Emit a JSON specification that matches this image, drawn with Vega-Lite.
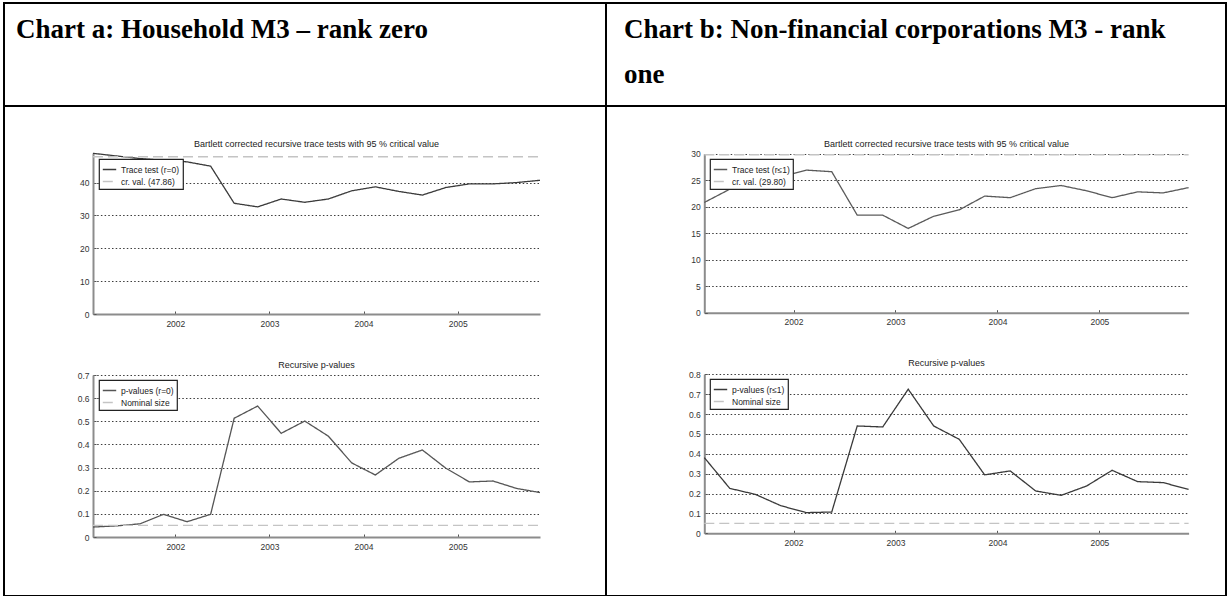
{
  "$schema": "https://vega.github.io/schema/vega-lite/v6.json",
  "background": "white",
  "padding": {"left": 3, "top": 2, "right": 2, "bottom": 1},
  "datasets": {
    "a": [
      {"t": 2001.125, "trace": 48.9, "pval": 0.043},
      {"t": 2001.375, "trace": 48.1, "pval": 0.048},
      {"t": 2001.625, "trace": 47.3, "pval": 0.057},
      {"t": 2001.875, "trace": 46.8, "pval": 0.098},
      {"t": 2002.125, "trace": 46.3, "pval": 0.066},
      {"t": 2002.375, "trace": 45.0, "pval": 0.098},
      {"t": 2002.625, "trace": 33.7, "pval": 0.513},
      {"t": 2002.875, "trace": 32.6, "pval": 0.566},
      {"t": 2003.125, "trace": 35.0, "pval": 0.448},
      {"t": 2003.375, "trace": 34.0, "pval": 0.501},
      {"t": 2003.625, "trace": 35.0, "pval": 0.436},
      {"t": 2003.875, "trace": 37.5, "pval": 0.320},
      {"t": 2004.125, "trace": 38.7, "pval": 0.268},
      {"t": 2004.375, "trace": 37.3, "pval": 0.340},
      {"t": 2004.625, "trace": 36.2, "pval": 0.376},
      {"t": 2004.875, "trace": 38.5, "pval": 0.297},
      {"t": 2005.125, "trace": 39.6, "pval": 0.238},
      {"t": 2005.375, "trace": 39.6, "pval": 0.242},
      {"t": 2005.625, "trace": 40.0, "pval": 0.210},
      {"t": 2005.875, "trace": 40.7, "pval": 0.192}
    ],
    "b": [
      {"t": 2001.125, "trace": 20.8, "pval": 0.381},
      {"t": 2001.375, "trace": 23.3, "pval": 0.226},
      {"t": 2001.625, "trace": 24.0, "pval": 0.196},
      {"t": 2001.875, "trace": 25.6, "pval": 0.139},
      {"t": 2002.125, "trace": 26.9, "pval": 0.104},
      {"t": 2002.375, "trace": 26.6, "pval": 0.107},
      {"t": 2002.625, "trace": 18.4, "pval": 0.540},
      {"t": 2002.875, "trace": 18.4, "pval": 0.535},
      {"t": 2003.125, "trace": 15.9, "pval": 0.725},
      {"t": 2003.375, "trace": 18.2, "pval": 0.540},
      {"t": 2003.625, "trace": 19.4, "pval": 0.473},
      {"t": 2003.875, "trace": 22.0, "pval": 0.294},
      {"t": 2004.125, "trace": 21.7, "pval": 0.314},
      {"t": 2004.375, "trace": 23.4, "pval": 0.213},
      {"t": 2004.625, "trace": 24.0, "pval": 0.191},
      {"t": 2004.875, "trace": 23.0, "pval": 0.238},
      {"t": 2005.125, "trace": 21.7, "pval": 0.317},
      {"t": 2005.375, "trace": 22.8, "pval": 0.260},
      {"t": 2005.625, "trace": 22.6, "pval": 0.255},
      {"t": 2005.875, "trace": 23.6, "pval": 0.221}
    ]
  },
  "columns": 2,
  "spacing": 0,
  "bounds": "flush",
  "concat": [
    {
      "width": 602,
      "height": 103,
      "data": {"values": [{"label": "Chart a: Household M3 – rank zero"}]},
      "mark": {"type": "text", "align": "left", "baseline": "alphabetic", "font": "Liberation Serif", "fontWeight": "bold", "fontSize": 27, "dx": 12, "dy": 35, "color": "#000"},
      "encoding": {
        "x": {"datum": 0, "type": "quantitative", "scale": {"domain": [0, 1]}, "axis": null},
        "y": {"datum": 1, "type": "quantitative", "scale": {"domain": [0, 1]}, "axis": null},
        "text": {"field": "label", "type": "nominal"}
      }
    },
    {
      "width": 620,
      "height": 103,
      "data": {"values": [{"label": "Chart b: Non-financial corporations M3 - rank\none"}]},
      "mark": {"type": "text", "align": "left", "baseline": "alphabetic", "font": "Liberation Serif", "fontWeight": "bold", "fontSize": 27, "lineBreak": "\n", "lineHeight": 45, "dx": 18, "dy": 35, "color": "#000"},
      "encoding": {
        "x": {"datum": 0, "type": "quantitative", "scale": {"domain": [0, 1]}, "axis": null},
        "y": {"datum": 1, "type": "quantitative", "scale": {"domain": [0, 1]}, "axis": null},
        "text": {"field": "label", "type": "nominal"}
      }
    },
    {
      "width": 602,
      "height": 490,
      "data": {"name": "a"},
      "layer": [
        {
          "layer": [
            {
              "mark": {"type": "line", "strokeWidth": 1.3},
              "encoding": {
                "x": {"field": "t", "type": "quantitative", "scale": {"domain": [2001.125, 2005.875], "range": [89, 536], "nice": false, "zero": false}, "axis": {"orient": "bottom", "offset": -282, "values": [2002, 2003, 2004, 2005], "format": "d", "title": null, "grid": false}},
                "y": {"field": "trace", "type": "quantitative", "scale": {"domain": [0, 49], "range": [208, 47], "nice": false, "zero": false}, "axis": {"orient": "left", "offset": -89, "values": [0, 10, 20, 30, 40], "format": "d", "title": null, "grid": true}},
                "color": {"datum": "Trace test (r=0)", "type": "nominal", "scale": {"domain": ["Trace test (r=0)", "cr. val. (47.86)"], "range": ["#3a3a3a", "#c4c4c4"]}, "legend": {"orient": "none", "legendX": 95, "legendY": 53, "title": null}},
                "strokeDash": {"datum": "Trace test (r=0)", "type": "nominal", "scale": {"domain": ["Trace test (r=0)", "cr. val. (47.86)"], "range": [[1, 0], [10, 5]]}, "legend": {"orient": "none", "legendX": 95, "legendY": 53, "title": null}}
              }
            },
            {
              "mark": {"type": "line", "strokeWidth": 1.3},
              "encoding": {
                "x": {"field": "t", "type": "quantitative", "scale": {"domain": [2001.125, 2005.875], "range": [89, 536], "nice": false, "zero": false}},
                "y": {"datum": 47.86, "type": "quantitative", "scale": {"domain": [0, 49], "range": [208, 47], "nice": false, "zero": false}},
                "color": {"datum": "cr. val. (47.86)", "type": "nominal", "scale": {"domain": ["Trace test (r=0)", "cr. val. (47.86)"], "range": ["#3a3a3a", "#c4c4c4"]}, "legend": {"orient": "none", "legendX": 95, "legendY": 53, "title": null}},
                "strokeDash": {"datum": "cr. val. (47.86)", "type": "nominal", "scale": {"domain": ["Trace test (r=0)", "cr. val. (47.86)"], "range": [[1, 0], [10, 5]]}, "legend": {"orient": "none", "legendX": 95, "legendY": 53, "title": null}}
              }
            },
            {
              "data": {"values": [{"title": "Bartlett corrected recursive trace tests with 95 % critical value"}]},
              "mark": {"type": "text", "font": "Liberation Sans", "fontSize": 9, "color": "#222", "align": "center", "baseline": "alphabetic", "dy": -6.5},
              "encoding": {
                "x": {"datum": 2003.5, "type": "quantitative", "scale": {"domain": [2001.125, 2005.875], "range": [89, 536], "nice": false, "zero": false}},
                "y": {"datum": 49, "type": "quantitative", "scale": {"domain": [0, 49], "range": [208, 47], "nice": false, "zero": false}},
                "text": {"field": "title", "type": "nominal"}
              }
            }
          ]
        },
        {
          "layer": [
            {
              "mark": {"type": "line", "strokeWidth": 1.3},
              "encoding": {
                "x": {"field": "t", "type": "quantitative", "scale": {"domain": [2001.125, 2005.875], "range": [89, 536], "nice": false, "zero": false}, "axis": {"orient": "bottom", "offset": -59, "values": [2002, 2003, 2004, 2005], "format": "d", "title": null, "grid": false}},
                "y": {"field": "pval", "type": "quantitative", "scale": {"domain": [0, 0.7], "range": [431, 269], "nice": false, "zero": false}, "axis": {"orient": "left", "offset": -89, "values": [0, 0.1, 0.2, 0.3, 0.4, 0.5, 0.6, 0.7], "format": ".1~f", "title": null, "grid": true}},
                "color": {"datum": "p-values (r=0)", "type": "nominal", "scale": {"domain": ["p-values (r=0)", "Nominal size"], "range": ["#555555", "#c4c4c4"]}, "legend": {"orient": "none", "legendX": 95, "legendY": 274, "title": null}},
                "strokeDash": {"datum": "p-values (r=0)", "type": "nominal", "scale": {"domain": ["p-values (r=0)", "Nominal size"], "range": [[1, 0], [10, 5]]}, "legend": {"orient": "none", "legendX": 95, "legendY": 274, "title": null}}
              }
            },
            {
              "mark": {"type": "line", "strokeWidth": 1.3},
              "encoding": {
                "x": {"field": "t", "type": "quantitative", "scale": {"domain": [2001.125, 2005.875], "range": [89, 536], "nice": false, "zero": false}},
                "y": {"datum": 0.05, "type": "quantitative", "scale": {"domain": [0, 0.7], "range": [431, 269], "nice": false, "zero": false}},
                "color": {"datum": "Nominal size", "type": "nominal", "scale": {"domain": ["p-values (r=0)", "Nominal size"], "range": ["#555555", "#c4c4c4"]}, "legend": {"orient": "none", "legendX": 95, "legendY": 274, "title": null}},
                "strokeDash": {"datum": "Nominal size", "type": "nominal", "scale": {"domain": ["p-values (r=0)", "Nominal size"], "range": [[1, 0], [10, 5]]}, "legend": {"orient": "none", "legendX": 95, "legendY": 274, "title": null}}
              }
            },
            {
              "data": {"values": [{"title": "Recursive p-values"}]},
              "mark": {"type": "text", "font": "Liberation Sans", "fontSize": 9, "color": "#222", "align": "center", "baseline": "alphabetic", "dy": -7.5},
              "encoding": {
                "x": {"datum": 2003.5, "type": "quantitative", "scale": {"domain": [2001.125, 2005.875], "range": [89, 536], "nice": false, "zero": false}},
                "y": {"datum": 0.7, "type": "quantitative", "scale": {"domain": [0, 0.7], "range": [431, 269], "nice": false, "zero": false}},
                "text": {"field": "title", "type": "nominal"}
              }
            }
          ]
        }
      ],
      "resolve": {
        "scale": {"x": "independent", "y": "independent", "color": "independent", "strokeDash": "independent"},
        "axis": {"x": "independent", "y": "independent"},
        "legend": {"color": "independent", "strokeDash": "independent"}
      }
    },
    {
      "width": 620,
      "height": 490,
      "data": {"name": "b"},
      "layer": [
        {
          "layer": [
            {
              "mark": {"type": "line", "strokeWidth": 1.3},
              "encoding": {
                "x": {"field": "t", "type": "quantitative", "scale": {"domain": [2001.125, 2005.875], "range": [98.3, 582.6], "nice": false, "zero": false}, "axis": {"orient": "bottom", "offset": -283.3, "values": [2002, 2003, 2004, 2005], "format": "d", "title": null, "grid": false}},
                "y": {"field": "trace", "type": "quantitative", "scale": {"domain": [0, 30], "range": [206.7, 47.7], "nice": false, "zero": false}, "axis": {"orient": "left", "offset": -98.3, "values": [0, 5, 10, 15, 20, 25, 30], "format": "d", "title": null, "grid": true}},
                "color": {"datum": "Trace test (r≤1)", "type": "nominal", "scale": {"domain": ["Trace test (r≤1)", "cr. val. (29.80)"], "range": ["#5a5a5a", "#c4c4c4"]}, "legend": {"orient": "none", "legendX": 104, "legendY": 53, "title": null}},
                "strokeDash": {"datum": "Trace test (r≤1)", "type": "nominal", "scale": {"domain": ["Trace test (r≤1)", "cr. val. (29.80)"], "range": [[1, 0], [10, 5]]}, "legend": {"orient": "none", "legendX": 104, "legendY": 53, "title": null}}
              }
            },
            {
              "mark": {"type": "line", "strokeWidth": 1.3},
              "encoding": {
                "x": {"field": "t", "type": "quantitative", "scale": {"domain": [2001.125, 2005.875], "range": [98.3, 582.6], "nice": false, "zero": false}},
                "y": {"datum": 29.8, "type": "quantitative", "scale": {"domain": [0, 30], "range": [206.7, 47.7], "nice": false, "zero": false}},
                "color": {"datum": "cr. val. (29.80)", "type": "nominal", "scale": {"domain": ["Trace test (r≤1)", "cr. val. (29.80)"], "range": ["#5a5a5a", "#c4c4c4"]}, "legend": {"orient": "none", "legendX": 104, "legendY": 53, "title": null}},
                "strokeDash": {"datum": "cr. val. (29.80)", "type": "nominal", "scale": {"domain": ["Trace test (r≤1)", "cr. val. (29.80)"], "range": [[1, 0], [10, 5]]}, "legend": {"orient": "none", "legendX": 104, "legendY": 53, "title": null}}
              }
            },
            {
              "data": {"values": [{"title": "Bartlett corrected recursive trace tests with 95 % critical value"}]},
              "mark": {"type": "text", "font": "Liberation Sans", "fontSize": 9, "color": "#222", "align": "center", "baseline": "alphabetic", "dy": -7},
              "encoding": {
                "x": {"datum": 2003.5, "type": "quantitative", "scale": {"domain": [2001.125, 2005.875], "range": [98.3, 582.6], "nice": false, "zero": false}},
                "y": {"datum": 30, "type": "quantitative", "scale": {"domain": [0, 30], "range": [206.7, 47.7], "nice": false, "zero": false}},
                "text": {"field": "title", "type": "nominal"}
              }
            }
          ]
        },
        {
          "layer": [
            {
              "mark": {"type": "line", "strokeWidth": 1.3},
              "encoding": {
                "x": {"field": "t", "type": "quantitative", "scale": {"domain": [2001.125, 2005.875], "range": [98.3, 582.6], "nice": false, "zero": false}, "axis": {"orient": "bottom", "offset": -62.7, "values": [2002, 2003, 2004, 2005], "format": "d", "title": null, "grid": false}},
                "y": {"field": "pval", "type": "quantitative", "scale": {"domain": [0, 0.8], "range": [427.3, 268.3], "nice": false, "zero": false}, "axis": {"orient": "left", "offset": -98.3, "values": [0, 0.1, 0.2, 0.3, 0.4, 0.5, 0.6, 0.7, 0.8], "format": ".1~f", "title": null, "grid": true}},
                "color": {"datum": "p-values (r≤1)", "type": "nominal", "scale": {"domain": ["p-values (r≤1)", "Nominal size"], "range": ["#3a3a3a", "#c4c4c4"]}, "legend": {"orient": "none", "legendX": 104, "legendY": 273, "title": null}},
                "strokeDash": {"datum": "p-values (r≤1)", "type": "nominal", "scale": {"domain": ["p-values (r≤1)", "Nominal size"], "range": [[1, 0], [10, 5]]}, "legend": {"orient": "none", "legendX": 104, "legendY": 273, "title": null}}
              }
            },
            {
              "mark": {"type": "line", "strokeWidth": 1.3},
              "encoding": {
                "x": {"field": "t", "type": "quantitative", "scale": {"domain": [2001.125, 2005.875], "range": [98.3, 582.6], "nice": false, "zero": false}},
                "y": {"datum": 0.05, "type": "quantitative", "scale": {"domain": [0, 0.8], "range": [427.3, 268.3], "nice": false, "zero": false}},
                "color": {"datum": "Nominal size", "type": "nominal", "scale": {"domain": ["p-values (r≤1)", "Nominal size"], "range": ["#3a3a3a", "#c4c4c4"]}, "legend": {"orient": "none", "legendX": 104, "legendY": 273, "title": null}},
                "strokeDash": {"datum": "Nominal size", "type": "nominal", "scale": {"domain": ["p-values (r≤1)", "Nominal size"], "range": [[1, 0], [10, 5]]}, "legend": {"orient": "none", "legendX": 104, "legendY": 273, "title": null}}
              }
            },
            {
              "data": {"values": [{"title": "Recursive p-values"}]},
              "mark": {"type": "text", "font": "Liberation Sans", "fontSize": 9, "color": "#222", "align": "center", "baseline": "alphabetic", "dy": -8},
              "encoding": {
                "x": {"datum": 2003.5, "type": "quantitative", "scale": {"domain": [2001.125, 2005.875], "range": [98.3, 582.6], "nice": false, "zero": false}},
                "y": {"datum": 0.8, "type": "quantitative", "scale": {"domain": [0, 0.8], "range": [427.3, 268.3], "nice": false, "zero": false}},
                "text": {"field": "title", "type": "nominal"}
              }
            }
          ]
        }
      ],
      "resolve": {
        "scale": {"x": "independent", "y": "independent", "color": "independent", "strokeDash": "independent"},
        "axis": {"x": "independent", "y": "independent"},
        "legend": {"color": "independent", "strokeDash": "independent"}
      }
    }
  ],
  "config": {
    "view": {"stroke": "#000000", "strokeWidth": 2},
    "concat": {"spacing": 0},
    "axis": {
      "labelFont": "Liberation Sans",
      "labelFontSize": 8.5,
      "labelColor": "#333333",
      "domainColor": "#8c8c8c",
      "domainWidth": 2,
      "ticks": true,
      "tickSize": -3,
      "tickColor": "#555555",
      "tickWidth": 1,
      "gridColor": "#3c3c3c",
      "gridDash": [1.5, 2.2],
      "gridWidth": 1.1,
      "gridOpacity": 1
    },
    "axisX": {"labelPadding": 8},
    "axisY": {"labelPadding": 7},
    "legend": {
      "symbolType": "stroke",
      "symbolSize": 180,
      "symbolStrokeWidth": 1.5,
      "labelFont": "Liberation Sans",
      "labelFontSize": 8.5,
      "labelColor": "#222222",
      "strokeColor": "#222222",
      "strokeWidth": 1.2,
      "fillColor": "#ffffff",
      "padding": 3,
      "rowPadding": 0,
      "labelOffset": 4
    }
  }
}
